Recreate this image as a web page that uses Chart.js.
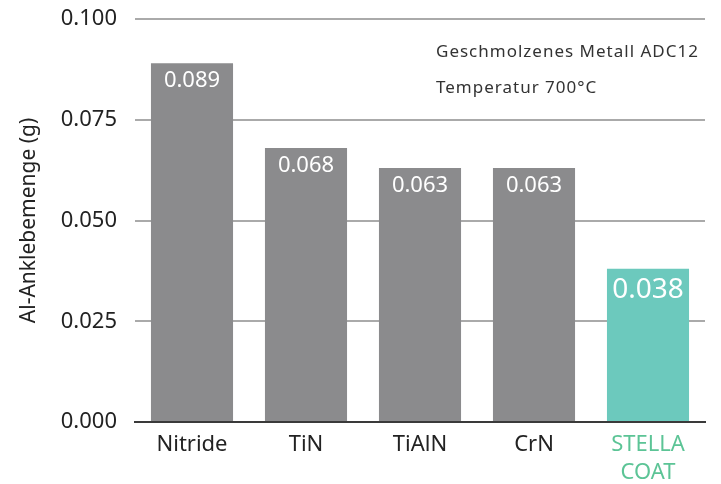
<!DOCTYPE html>
<html>
<head>
<meta charset="utf-8">
<script src="https://cdn.jsdelivr.net/npm/chart.js@4"></script>
<style>
  html, body { margin: 0; padding: 0; background: #fff; }
  #wrap { width: 721px; height: 484px; position: relative; }
</style>
</head>
<body>
<div id="wrap"><canvas id="barChart"></canvas></div>
<script>
var categories = ['Nitride', 'TiN', 'TiAlN', 'CrN', ['STELLA', 'COAT']];
var values = [0.089, 0.068, 0.063, 0.063, 0.038];
var valueLabels = ['0.089', '0.068', '0.063', '0.063', '0.038'];
var yTicks = [0, 0.025, 0.05, 0.075, 0.1];
var noteLines = ['Geschmolzenes Metall ADC12', 'Temperatur 700°C'];

var gray = '#8b8b8d';
var teal = '#6cc9bd';
var font = '"Noto Sans", sans-serif';

// white value text inside the top of each bar + the note in the corner
var labelPlugin = {
    id: 'labelPlugin',
    afterDatasetsDraw: function (chart) {
        var ctx = chart.ctx;
        var meta = chart.getDatasetMeta(0);
        ctx.save();
        ctx.fillStyle = '#ffffff';
        ctx.textAlign = 'center';
        ctx.textBaseline = 'alphabetic';
        meta.data.forEach(function (bar, i) {
            var big = i === values.length - 1;
            ctx.font = (big ? '28px ' : '22px ') + font;
            ctx.fillText(valueLabels[i], bar.x, bar.y + (big ? 29 : 24));
        });
        ctx.fillStyle = '#333333';
        ctx.textAlign = 'left';
        ctx.textBaseline = 'middle';
        ctx.font = '17px ' + font;
        ctx.letterSpacing = '1px';
        ctx.fillText(noteLines[0], 436, 52);
        ctx.fillText(noteLines[1], 436, 88);
        ctx.restore();
    }
};

var ctx = document.getElementById('barChart').getContext('2d');
var myChart = new Chart(ctx, {
    type: 'bar',
    data: {
        labels: categories,
        datasets: [{
            data: values,
            backgroundColor: values.map(function (v, i) { return i === values.length - 1 ? teal : gray; }),
            borderWidth: 0,
            categoryPercentage: 1,
            barPercentage: 0.72
        }]
    },
    plugins: [labelPlugin],
    options: {
        maintainAspectRatio: false,
        responsive: true,
        animation: false,
        layout: {
            padding: { top: 19, right: 16, left: 16, bottom: 0 }
        },
        plugins: {
            legend: { display: false },
            tooltip: { enabled: false }
        },
        scales: {
            x: {
                grid: { display: false },
                border: { display: true, color: '#3a3a3a', width: 2 },
                afterFit: function (axis) { axis.height = 62; },
                ticks: {
                    color: function (c) { return c.index === categories.length - 1 ? '#5cc496' : '#222222'; },
                    font: { family: font, size: 22, lineHeight: 1.3 },
                    padding: 0,
                    maxRotation: 0,
                    autoSkip: false
                }
            },
            y: {
                min: 0,
                max: 0.1,
                afterBuildTicks: function (axis) {
                    axis.ticks = yTicks.map(function (v) { return { value: v }; });
                },
                afterFit: function (axis) {
                    axis.width = 119;
                    axis.paddingTop = 0;
                    axis.paddingBottom = 0;
                },
                border: { display: false },
                grid: {
                    color: function (c) { return c.tick && c.tick.value === 0 ? 'rgba(0,0,0,0)' : '#aaaaaa'; },
                    lineWidth: 2,
                    drawTicks: false
                },
                ticks: {
                    color: '#222222',
                    font: { family: font, size: 22 },
                    padding: 18,
                    callback: function (v) { return Number(v).toFixed(3); }
                },
                title: {
                    display: true,
                    text: 'Al-Anklebemenge (g)',
                    color: '#222222',
                    font: { family: font, size: 21 },
                    padding: 0
                }
            }
        }
    }
});
</script>
</body>
</html>
